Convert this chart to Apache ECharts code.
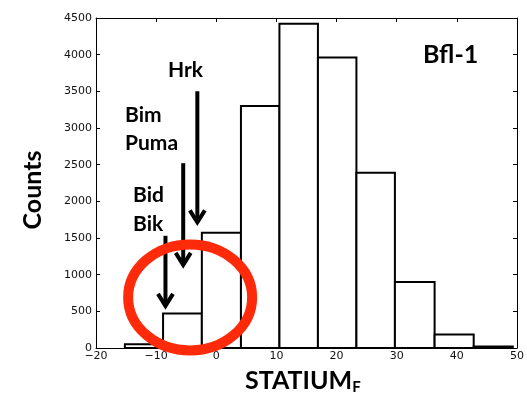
<!DOCTYPE html>
<html>
<head>
<meta charset="utf-8">
<script src="https://cdn.jsdelivr.net/npm/echarts@6/dist/echarts.min.js"></script>
<style>
  html, body { margin: 0; padding: 0; background: #fff; }
  #chart { width: 527px; height: 400px; }
</style>
</head>
<body>
<div id="chart"></div>
<script>
// Histogram bin edges (STATIUM_F score) and counts per bin
const binEdges = [-15.2, -8.85, -2.4, 4.1, 10.5, 16.9, 23.3, 29.7, 36.3, 42.8, 49.3];
const binCounts = [50, 470, 1570, 3300, 4420, 3960, 2390, 900, 185, 20];

// Axis ranges and tick steps
const xMin = -20, xMax = 50, xStep = 10;
const yMin = 0, yMax = 4500, yStep = 500;

// Peptide annotations: arrow x position, arrow top and tip in counts
const arrowX = [-3.15, -5.5, -8.45];
const arrowTop = [3500, 2520, 1530];
const arrowTip = [1700, 1120, 560];

// Highlighted region (centre in data units)
const ringCenter = [-4.35, 690];

const bins = binCounts.map((c, i) => [binEdges[i], binEdges[i + 1], c]);

const chart = echarts.init(document.getElementById('chart'), null, { renderer: 'canvas' });

const tickFont = { fontFamily: 'DejaVu Sans', fontSize: 11, color: '#111' };
const minusFmt = v => String(v).replace('-', '\u2212');

const option = {
  animation: false,
  backgroundColor: '#fff',
  grid: { left: 96, right: 6, top: 18, bottom: 52, containLabel: false },
  xAxis: [
    {
      type: 'value', min: xMin, max: xMax, interval: xStep,
      axisLine: { show: true, onZero: false, lineStyle: { color: '#000', width: 1 } },
      axisTick: { show: true, inside: true, length: 4, lineStyle: { color: '#000' } },
      axisLabel: Object.assign({ margin: 3, formatter: minusFmt }, tickFont),
      splitLine: { show: false }
    },
    {
      type: 'value', position: 'top', min: xMin, max: xMax, interval: xStep,
      axisLine: { show: true, onZero: false, lineStyle: { color: '#000', width: 1 } },
      axisTick: { show: true, inside: true, length: 4, lineStyle: { color: '#000' } },
      axisLabel: { show: false },
      splitLine: { show: false }
    }
  ],
  yAxis: [
    {
      type: 'value', min: yMin, max: yMax, interval: yStep,
      axisLine: { show: true, onZero: false, lineStyle: { color: '#000', width: 1 } },
      axisTick: { show: true, inside: true, length: 4, lineStyle: { color: '#000' } },
      axisLabel: Object.assign({ margin: 4, formatter: v => String(v) }, tickFont),
      splitLine: { show: false }
    },
    {
      type: 'value', position: 'right', min: yMin, max: yMax, interval: yStep,
      axisLine: { show: true, onZero: false, lineStyle: { color: '#000', width: 1 } },
      axisTick: { show: true, inside: true, length: 4, lineStyle: { color: '#000' } },
      axisLabel: { show: false },
      splitLine: { show: false }
    }
  ],
  series: [
    {
      type: 'custom',
      xAxisIndex: 0, yAxisIndex: 0,
      data: bins,
      renderItem: function (params, api) {
        const p0 = api.coord([api.value(0), api.value(2)]);
        const p1 = api.coord([api.value(1), 0]);
        return {
          type: 'rect',
          shape: { x: p0[0], y: p0[1], width: p1[0] - p0[0], height: p1[1] - p0[1] },
          style: { fill: '#fff', stroke: '#000', lineWidth: 2 }
        };
      },
      z: 2
    }
  ]
};

chart.setOption(option);

// Annotation overlay: arrows, labels, ring and axis titles
const labelFont = '700 21px Lato';
const graphics = [];

arrowX.forEach((x, i) => {
  const top = chart.convertToPixel({ gridIndex: 0 }, [x, arrowTop[i]]);
  const tip = chart.convertToPixel({ gridIndex: 0 }, [x, arrowTip[i]]);
  graphics.push({
    type: 'line', z: 20,
    shape: { x1: top[0], y1: top[1], x2: tip[0], y2: tip[1] - 1 },
    style: { stroke: '#000', lineWidth: 4 }
  });
  graphics.push({
    type: 'polyline', z: 20,
    shape: { points: [[tip[0] - 7.5, tip[1] - 13], [tip[0], tip[1] - 1], [tip[0] + 7.5, tip[1] - 13]] },
    style: { stroke: '#000', lineWidth: 4, fill: null, lineJoin: 'miter' }
  });
});

const ringPx = chart.convertToPixel({ gridIndex: 0 }, ringCenter);
graphics.push({
  type: 'ellipse', z: 30,
  shape: { cx: ringPx[0], cy: ringPx[1], rx: 62, ry: 53 },
  style: { fill: null, stroke: '#ff2a0a', lineWidth: 10 }
});

const texts = [
  { t: 'Hrk', x: 168, y: 70 },
  { t: 'Bim', x: 125, y: 115 },
  { t: 'Puma', x: 125, y: 143 },
  { t: 'Bid', x: 133, y: 195 },
  { t: 'Bik', x: 133, y: 224 }
];
texts.forEach(o => graphics.push({
  type: 'text', z: 25, x: o.x, y: o.y,
  style: { text: o.t, font: labelFont, fill: '#000', textVerticalAlign: 'middle' }
}));

graphics.push({
  type: 'text', z: 25, x: 423, y: 55,
  style: { text: 'Bfl-1', font: '700 25px Lato', fill: '#000', textVerticalAlign: 'middle' }
});

graphics.push({
  type: 'text', z: 25, x: 245, y: 381,
  style: {
    text: '{a|STATIUM}{b|F}',
    textVerticalAlign: 'middle',
    rich: {
      a: { font: '700 25px Lato', fill: '#000', color: '#000' },
      b: { font: '700 15px Lato', color: '#000', padding: [12, 0, 0, 0] }
    }
  }
});

graphics.push({
  type: 'text', z: 25, x: 33, y: 190, rotation: Math.PI / 2,
  style: { text: 'Counts', font: '700 25px Lato', fill: '#000', textAlign: 'center', textVerticalAlign: 'middle' }
});

chart.setOption({ graphic: { elements: graphics } });
</script>
</body>
</html>
